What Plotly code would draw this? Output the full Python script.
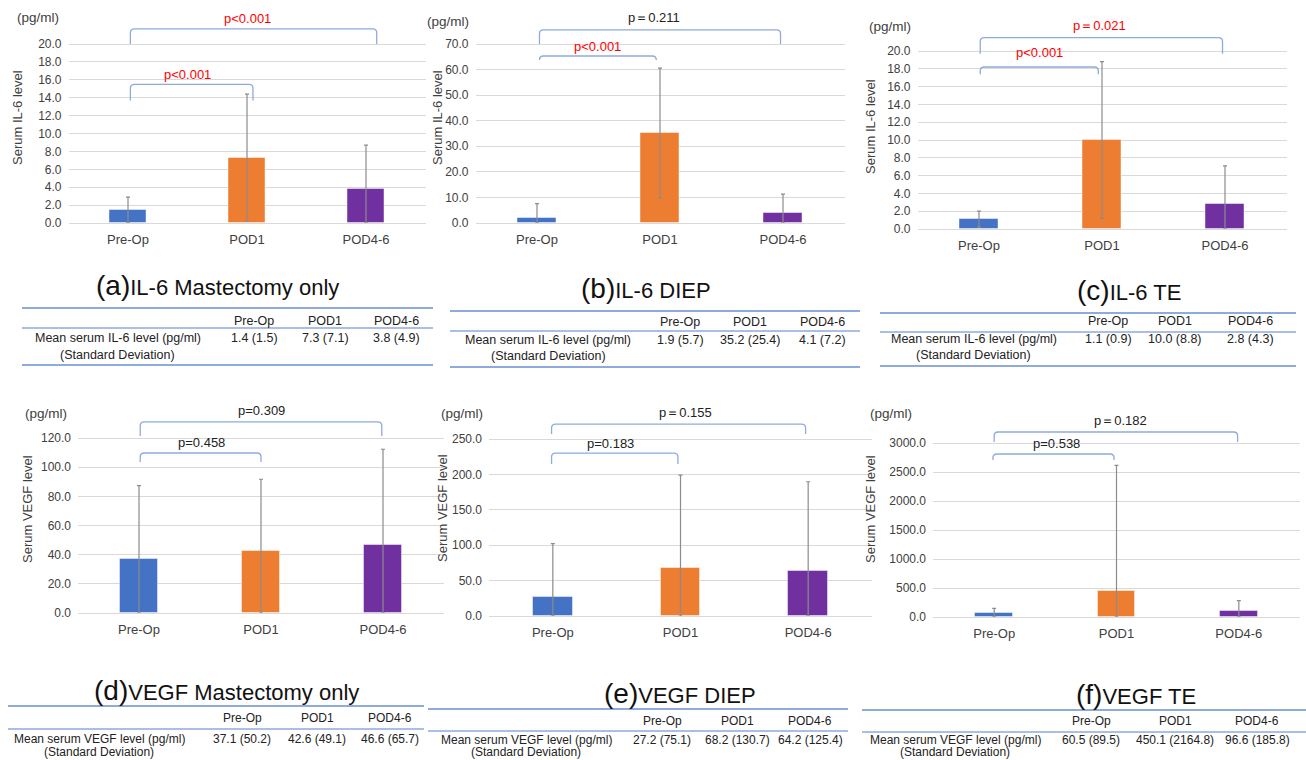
import plotly.graph_objects as go

# ---------------- data ----------------
categories = ["Pre-Op", "POD1", "POD4-6"]
bar_colors = ["#4472C4", "#ED7D31", "#7030A0"]

il6_mast_mean = [1.4, 7.3, 3.8]
il6_mast_sd = [1.5, 7.1, 4.9]
il6_diep_mean = [1.9, 35.2, 4.1]
il6_diep_sd = [5.7, 25.4, 7.2]
il6_te_mean = [1.1, 10.0, 2.8]
il6_te_sd = [0.9, 8.8, 4.3]
vegf_mast_mean = [37.1, 42.6, 46.6]
vegf_mast_sd = [50.2, 49.1, 65.7]
vegf_diep_mean = [27.2, 68.2, 64.2]
vegf_diep_sd = [75.1, 130.7, 125.4]
vegf_te_mean = [60.5, 450.1, 96.6]
vegf_te_sd = [89.5, 2164.8, 185.8]

il6_mast_ticks = [0.0, 2.0, 4.0, 6.0, 8.0, 10.0, 12.0, 14.0, 16.0, 18.0, 20.0]
il6_diep_ticks = [0.0, 10.0, 20.0, 30.0, 40.0, 50.0, 60.0, 70.0]
il6_te_ticks = [0.0, 2.0, 4.0, 6.0, 8.0, 10.0, 12.0, 14.0, 16.0, 18.0, 20.0]
vegf_mast_ticks = [0.0, 20.0, 40.0, 60.0, 80.0, 100.0, 120.0]
vegf_diep_ticks = [0.0, 50.0, 100.0, 150.0, 200.0, 250.0]
vegf_te_ticks = [0.0, 500.0, 1000.0, 1500.0, 2000.0, 2500.0, 3000.0]

p_a = ["p<0.001", "p<0.001"]
p_b = ["p<0.001", "p\uff1d0.211"]
p_c = ["p<0.001", "p\uff1d0.021"]
p_d = ["p=0.458", "p=0.309"]
p_e = ["p=0.183", "p\uff1d0.155"]
p_f = ["p=0.538", "p\uff1d0.182"]
p_a_colors = ["#FF0000", "#FF0000"]
p_b_colors = ["#FF0000", "#222222"]
p_c_colors = ["#FF0000", "#FF0000"]
p_d_colors = ["#222222", "#222222"]
p_e_colors = ["#222222", "#222222"]
p_f_colors = ["#222222", "#222222"]

subtitle_letters = ["(a)", "(b)", "(c)", "(d)", "(e)", "(f)"]
subtitle_texts = ["IL-6 Mastectomy only", "IL-6 DIEP", "IL-6 TE",
                  "VEGF Mastectomy only", "VEGF DIEP", "VEGF TE"]
ytitles = ["Serum IL-6 level"] * 3 + ["Serum VEGF level"] * 3
row_labels_il6 = ["Mean serum IL-6 level (pg/ml)", "(Standard Deviation)"]
row_labels_vegf = ["Mean serum VEGF level (pg/ml)", "(Standard Deviation)"]

# ---------------- layout geometry (pixels) ----------------
W, H = 1306, 760
FONT = "Liberation Sans, Arial, Helvetica, sans-serif"


def px(x):
    return x / W


def py(y):
    return 1 - y / H


panels = [
    dict(mean=il6_mast_mean, sd=il6_mast_sd, ticks=il6_mast_ticks, p=p_a, pc=p_a_colors,
         xl=68.5, xr=425.5, y0=223, gpx=44, top=6,
         br=[(0.02, 1.05, 13.7, 15.5, 0.5, 16.6), (0.02, 2.09, 20.0, 21.7, 1.0, 22.8)],
         yt=(17, 118), unit=(38, 18), sub=(217, 285),
         tab=dict(x0=22, x1=433, lines=[308, 328, 365], hy=321, r1=338, r2=355, lx=118,
                  cols=[254, 325, 396], labels=row_labels_il6)),
    dict(mean=il6_diep_mean, sd=il6_diep_sd, ticks=il6_diep_ticks, p=p_b, pc=p_b_colors,
         xl=475.5, xr=844.5, y0=223, gpx=44, top=6,
         br=[(0.02, 0.97, 64.0, 65.3, 0.49, 69.2), (0.02, 1.98, 70.0, 75.5, 0.95, 80.5)],
         yt=(437, 118), unit=(448, 22), sub=(646, 288),
         tab=dict(x0=450, x1=860, lines=[311, 331, 367], hy=322, r1=340, r2=356, lx=548,
                  cols=[680, 750, 822], labels=row_labels_il6)),
    dict(mean=il6_te_mean, sd=il6_te_sd, ticks=il6_te_ticks, p=p_c, pc=p_c_colors,
         xl=917.5, xr=1286.5, y0=229, gpx=51, top=10,
         br=[(0.01, 0.97, 17.4, 18.2, 0.49, 19.8), (0.01, 1.98, 19.7, 21.5, 0.98, 22.9)],
         yt=(870, 127), unit=(890, 27), sub=(1129, 290),
         tab=dict(x0=880, x1=1296, lines=[313, 332, 366], hy=321, r1=339, r2=355, lx=974,
                  cols=[1108, 1175, 1250], labels=row_labels_il6)),
    dict(mean=vegf_mast_mean, sd=vegf_mast_sd, ticks=vegf_mast_ticks, p=p_d, pc=p_d_colors,
         xl=78, xr=444, y0=613, gpx=438, top=398,
         br=[(0.01, 1.0, 103.6, 109.7, 0.51, 116.6), (0.01, 1.99, 121.4, 131.0, 1.0, 139.0)],
         yt=(27, 509), unit=(46, 413), sub=(226, 690),
         tab=dict(x0=8, x1=424, lines=[706, 729], hy=718, r1=739, r2=752, lx=99,
                  cols=[242, 317, 390], labels=row_labels_vegf)),
    dict(mean=vegf_diep_mean, sd=vegf_diep_sd, ticks=vegf_diep_ticks, p=p_e, pc=p_e_colors,
         xl=489, xr=872, y0=616, gpx=439, top=400,
         br=[(-0.01, 0.98, 214.7, 230.0, 0.45, 244.0), (-0.01, 1.98, 257.0, 271.0, 1.04, 287.0)],
         yt=(442, 508), unit=(462, 413), sub=(680, 693),
         tab=dict(x0=428, x1=848, lines=[709, 731], hy=721, r1=740, r2=752, lx=526,
                  cols=[662, 737, 810], labels=row_labels_vegf)),
    dict(mean=vegf_te_mean, sd=vegf_te_sd, ticks=vegf_te_ticks, p=p_f, pc=p_f_colors,
         xl=933, xr=1300, y0=617, gpx=443, top=400,
         br=[(-0.01, 0.98, 2707, 2810, 0.51, 3000), (0.0, 1.99, 3017, 3190, 1.03, 3380)],
         yt=(870, 509), unit=(891, 413), sub=(1136, 694),
         tab=dict(x0=862, x1=1306, lines=[710, 732], hy=721, r1=740, r2=752, lx=955,
                  cols=[1091, 1175, 1257], labels=row_labels_vegf)),
]

fig = go.Figure()
shapes = []
annotations = []
layout_axes = {}

for i, pnl in enumerate(panels):
    n = i + 1
    xa = "x" if n == 1 else f"x{n}"
    ya = "y" if n == 1 else f"y{n}"
    xkey = "xaxis" if n == 1 else f"xaxis{n}"
    ykey = "yaxis" if n == 1 else f"yaxis{n}"

    gval = max(pnl["ticks"])
    scale = (pnl["y0"] - pnl["gpx"]) / gval  # px per unit
    ymax = (pnl["y0"] - pnl["top"]) / scale
    spacing = (pnl["xr"] - pnl["xl"]) / 3.0

    xpos = list(range(len(categories)))
    fig.add_trace(go.Bar(
        x=xpos, y=pnl["mean"], width=0.31,
        marker=dict(color=bar_colors, line=dict(color="rgba(255,255,255,0.45)", width=1)),
        error_y=dict(type="data", array=pnl["sd"],
                     arrayminus=[min(s, m) for s, m in zip(pnl["sd"], pnl["mean"])],
                     color="#8c8c8c", thickness=1.2, width=2),
        xaxis=xa, yaxis=ya, showlegend=False, hoverinfo="skip",
    ))

    layout_axes[xkey] = dict(
        domain=[px(pnl["xl"]), px(pnl["xr"])], anchor=ya, range=[-0.5, 2.5],
        tickvals=xpos, ticktext=categories, showgrid=False, zeroline=False,
        showline=True, linecolor="#d9d9d9", linewidth=1, ticks="",
        tickfont=dict(family=FONT, size=13, color="#404040"), ticklabelstandoff=4,
        automargin=False, fixedrange=True,
    )
    layout_axes[ykey] = dict(
        domain=[py(pnl["y0"]), py(pnl["top"])], anchor=xa, range=[0, ymax],
        tickvals=pnl["ticks"], tickformat=".1f", showgrid=True, gridcolor="#d9d9d9",
        gridwidth=1, zeroline=False, showline=False, ticks="",
        tickfont=dict(family=FONT, size=12, color="#404040"), ticklabelstandoff=6,
        automargin=False, fixedrange=True,
    )

    # brackets + p values
    rdx = 4.0 / spacing
    rdy = 4.0 / scale
    for (x0, x1, yl, ytop, tx, ty), lab, col in zip(pnl["br"], pnl["p"], pnl["pc"]):
        path = (f"M {x0},{yl} L {x0},{ytop - rdy} Q {x0},{ytop} {x0 + rdx},{ytop} "
                f"L {x1 - rdx},{ytop} Q {x1},{ytop} {x1},{ytop - rdy} L {x1},{yl}")
        shapes.append(dict(type="path", path=path, xref=xa, yref=ya,
                           line=dict(color="#8FAADC", width=1.3)))
        annotations.append(dict(x=tx, y=ty, xref=xa, yref=ya, text=lab, showarrow=False,
                                font=dict(family=FONT, size=13, color=col),
                                xanchor="center", yanchor="middle"))

    # axis title and unit
    annotations.append(dict(x=px(pnl["yt"][0]), y=py(pnl["yt"][1]), xref="paper", yref="paper",
                            text=ytitles[i], textangle=-90, showarrow=False,
                            font=dict(family=FONT, size=13, color="#404040"),
                            xanchor="center", yanchor="middle"))
    annotations.append(dict(x=px(pnl["unit"][0]), y=py(pnl["unit"][1]), xref="paper", yref="paper",
                            text="(pg/ml)", showarrow=False,
                            font=dict(family=FONT, size=13.5, color="#404040"),
                            xanchor="center", yanchor="middle"))

    # subtitle
    annotations.append(dict(
        x=px(pnl["sub"][0]), y=py(pnl["sub"][1]), xref="paper", yref="paper",
        text=f"<span style='font-size:28px'>{subtitle_letters[i]}</span>{subtitle_texts[i]}",
        showarrow=False, font=dict(family=FONT, size=22, color="#111111"),
        xanchor="center", yanchor="middle"))

    # table
    t = pnl["tab"]
    tsize = 12.5 if i < 3 else 12
    for k, ly in enumerate(t["lines"]):
        shapes.append(dict(type="line", xref="paper", yref="paper",
                           x0=px(t["x0"]), x1=px(t["x1"]), y0=py(ly), y1=py(ly),
                           line=dict(color="#8FAADC", width=2 if k != 1 else 1.6)))
    for cx, cat, m, s in zip(t["cols"], categories, pnl["mean"], pnl["sd"]):
        annotations.append(dict(x=px(cx), y=py(t["hy"]), xref="paper", yref="paper",
                                text=cat, showarrow=False,
                                font=dict(family=FONT, size=tsize, color="#222222"),
                                xanchor="center", yanchor="middle"))
        annotations.append(dict(x=px(cx), y=py(t["r1"]), xref="paper", yref="paper",
                                text=f"{m:.1f} ({s:.1f})", showarrow=False,
                                font=dict(family=FONT, size=tsize, color="#222222"),
                                xanchor="center", yanchor="middle"))
    for lab, ry in zip(t["labels"], [t["r1"], t["r2"]]):
        annotations.append(dict(x=px(t["lx"]), y=py(ry), xref="paper", yref="paper",
                                text=lab, showarrow=False,
                                font=dict(family=FONT, size=tsize, color="#222222"),
                                xanchor="center", yanchor="middle"))

fig.update_layout(
    width=W, height=H, margin=dict(l=0, r=0, t=0, b=0, pad=0),
    paper_bgcolor="white", plot_bgcolor="white",
    font=dict(family=FONT, size=12, color="#404040"),
    shapes=shapes, annotations=annotations, bargap=0.0, showlegend=False,
    **layout_axes,
)

fig.write_html(
    "out.html",
    config={"displayModeBar": False},
    post_script="document.body.style.margin='0px';document.body.style.padding='0px';"
                "document.documentElement.style.overflow='hidden';",
)
